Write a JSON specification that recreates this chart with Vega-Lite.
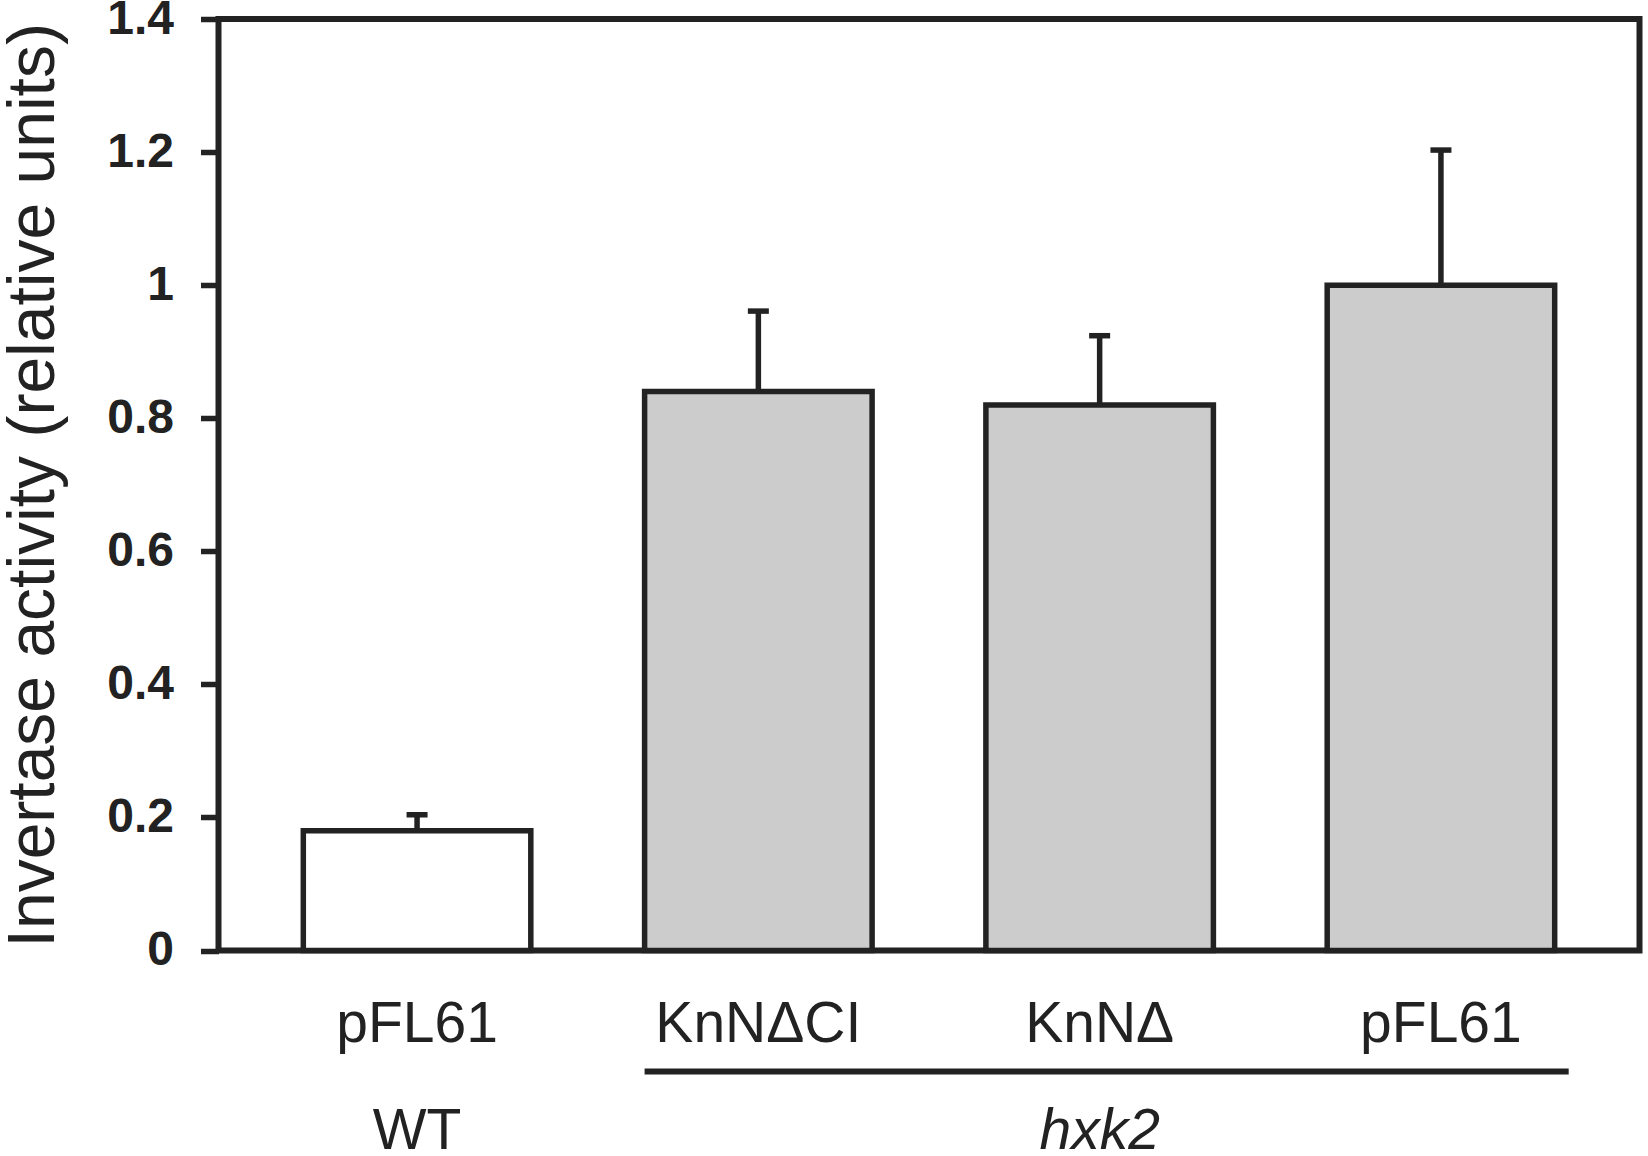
{
  "$schema": "https://vega.github.io/schema/vega-lite/v6.json",
  "width": 1421,
  "height": 931.5,
  "autosize": {"type": "none"},
  "padding": {"left": 218.5, "top": 19, "right": 8.5, "bottom": 205.5},
  "background": "white",
  "config": {
    "view": {"stroke": "#222222", "strokeWidth": 6},
    "font": "Liberation Sans",
    "axis": {"labelFont": "Liberation Sans", "titleFont": "Liberation Sans"}
  },
  "data": {
    "values": [
      {"id": "WT_pFL61", "strain": "WT", "activity": 0.18, "upper": 0.204},
      {"id": "KnNΔCI", "strain": "hxk2", "activity": 0.84, "upper": 0.961},
      {"id": "KnNΔ", "strain": "hxk2", "activity": 0.82, "upper": 0.924},
      {"id": "hxk2_pFL61", "strain": "hxk2", "activity": 1.0, "upper": 1.203}
    ]
  },
  "layer": [
    {
      "mark": {"type": "bar", "stroke": "#222222", "strokeWidth": 5.5},
      "encoding": {
        "x": {
          "field": "id",
          "type": "nominal",
          "sort": null,
          "scale": {
            "domain": ["WT_pFL61", "KnNΔCI", "KnNΔ", "hxk2_pFL61"],
            "paddingInner": 0.3334,
            "paddingOuter": 0.2485
          },
          "axis": {
            "title": null,
            "ticks": false,
            "domain": false,
            "labelAngle": 0,
            "labelExpr": "replace(replace(datum.label, 'WT_', ''), 'hxk2_', '')",
            "labelFontSize": 57,
            "labelColor": "#222222",
            "labelPadding": 46,
            "labelLimit": 0,
            "labelOverlap": false
          }
        },
        "y": {
          "field": "activity",
          "type": "quantitative",
          "scale": {"domain": [0, 1.4], "nice": false},
          "axis": {
            "title": "Invertase activity (relative units)",
            "values": [0, 0.2, 0.4, 0.6, 0.8, 1, 1.2, 1.4],
            "format": "~g",
            "grid": false,
            "domain": false,
            "labelFontWeight": "bold",
            "labelFontSize": 48,
            "labelColor": "#222222",
            "labelPadding": 27,
            "tickSize": 18,
            "tickWidth": 5.5,
            "tickColor": "#222222",
            "titleFontSize": 66,
            "titleFontWeight": "normal",
            "titleColor": "#222222",
            "titlePadding": 39,
            "titleLimit": 2000
          }
        },
        "fill": {
          "field": "strain",
          "type": "nominal",
          "scale": {"domain": ["WT", "hxk2"], "range": ["#ffffff", "#cccccc"]},
          "legend": null
        }
      }
    },
    {
      "mark": {"type": "rule", "strokeWidth": 5.5, "color": "#222222"},
      "encoding": {
        "x": {"field": "id", "type": "nominal"},
        "y": {"field": "activity", "type": "quantitative"},
        "y2": {"field": "upper"}
      }
    },
    {
      "mark": {"type": "tick", "size": 21, "thickness": 5.5, "color": "#222222", "opacity": 1},
      "encoding": {
        "x": {"field": "id", "type": "nominal"},
        "y": {"field": "upper", "type": "quantitative"}
      }
    },
    {
      "data": {"values": [{"from": "KnNΔCI", "to": "hxk2_pFL61"}]},
      "mark": {"type": "rule", "strokeWidth": 6, "color": "#222222", "x2Offset": 14, "strokeCap": "butt"},
      "encoding": {
        "x": {"field": "from", "type": "nominal", "bandPosition": 0},
        "x2": {"field": "to", "bandPosition": 1},
        "y": {"datum": -0.182, "type": "quantitative"}
      }
    },
    {
      "data": {"values": [{"group": "WT", "at": "WT_pFL61"}, {"group": "hxk2", "at": "KnNΔ"}]},
      "mark": {
        "type": "text",
        "fontSize": 57,
        "baseline": "alphabetic",
        "align": "center",
        "color": "#222222",
        "font": "Liberation Sans",
        "fontStyle": {"expr": "datum.group === 'hxk2' ? 'italic' : 'normal'"}
      },
      "encoding": {
        "x": {"field": "at", "type": "nominal"},
        "y": {"datum": -0.298, "type": "quantitative"},
        "text": {"field": "group"}
      }
    }
  ]
}
